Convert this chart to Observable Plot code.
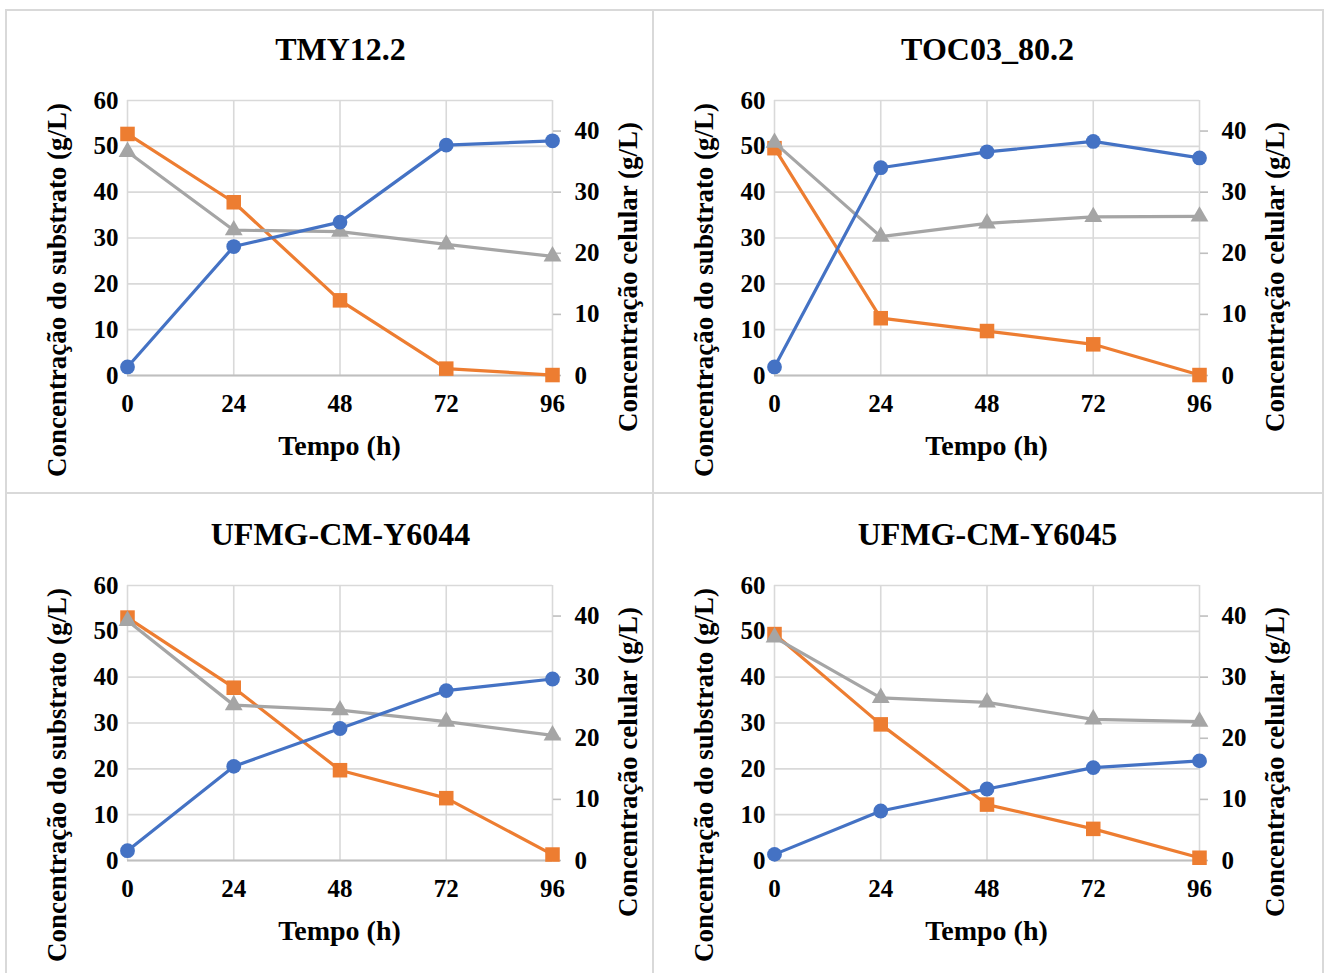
<!DOCTYPE html>
<html>
<head>
<meta charset="utf-8">
<script src="https://cdn.jsdelivr.net/npm/d3@7"></script>
<script src="https://cdn.jsdelivr.net/npm/@observablehq/plot@0.6"></script>
<style>
  html, body { margin: 0; padding: 0; background: #fff; }
  #root { position: relative; width: 1328px; height: 973px; overflow: hidden; background: #fff;
          font-family: "Liberation Serif", "Times New Roman", serif; font-weight: bold; color: #000; }
  .ln { position: absolute; background: #d9d9d9; }
  .lbl { position: absolute; white-space: nowrap; transform: translate(-50%, -50%); line-height: 1; }
  .rot { transform: translate(-50%, -50%) rotate(-90deg); }
  .pnl { position: absolute; }
</style>
</head>
<body>
<div id="root"></div>
<script>
// ---- data ----
const times = [0, 24, 48, 72, 96];
const titles = ["TMY12.2", "TOC03_80.2", "UFMG-CM-Y6044", "UFMG-CM-Y6045"];
const xLabel = "Tempo (h)";
const yLeftLabel = "Concentração do substrato (g/L)";
const yRightLabel = "Concentração celular (g/L)";
const leftTicks = [0, 10, 20, 30, 40, 50, 60];
const rightTicks = [0, 10, 20, 30, 40];
const leftMax = 60;
const rightMax = 45;

// orange squares (left axis, g/L)
const substrate1 = [52.7, 37.8, 16.4, 1.5, 0.1];
const substrate2 = [49.6, 12.5, 9.7, 6.8, 0.1];
const substrate3 = [53.0, 37.7, 19.7, 13.6, 1.3];
const substrate4 = [49.4, 29.7, 12.2, 6.9, 0.6];
// gray triangles (left axis, g/L)
const gray1 = [48.8, 31.7, 31.4, 28.6, 26.0];
const gray2 = [50.8, 30.3, 33.2, 34.6, 34.7];
const gray3 = [52.3, 33.9, 32.8, 30.3, 27.3];
const gray4 = [48.7, 35.5, 34.5, 30.8, 30.3];
// blue circles (right axis, cell concentration g/L)
const cells1 = [1.4, 21.1, 25.1, 37.7, 38.4];
const cells2 = [1.4, 34.0, 36.6, 38.3, 35.6];
const cells3 = [1.6, 15.4, 21.6, 27.8, 29.7];
const cells4 = [1.0, 8.1, 11.7, 15.2, 16.3];

const substrate = [substrate1, substrate2, substrate3, substrate4];
const grays = [gray1, gray2, gray3, gray4];
const cells = [cells1, cells2, cells3, cells4];

const colors = { blue: "#4472C4", orange: "#ED7D31", gray: "#A5A5A5", grid: "#d9d9d9", axis: "#bfbfbf" };
const FONT = "'Liberation Serif', 'Times New Roman', serif";

const root = document.getElementById("root");

// panel borders
function line(x, y, w, h) {
  const d = document.createElement("div");
  d.className = "ln";
  Object.assign(d.style, { left: x + "px", top: y + "px", width: w + "px", height: h + "px" });
  root.appendChild(d);
}
line(5, 9, 1319, 2);
line(5, 9, 2, 980);
line(1322, 9, 2, 980);
line(652, 9, 2, 980);
line(5, 492, 1319, 2);

function label(text, cx, cy, size, rotate) {
  const d = document.createElement("div");
  d.className = "lbl" + (rotate ? " rot" : "");
  d.textContent = text;
  Object.assign(d.style, { left: cx + "px", top: cy + "px", fontSize: size + "px" });
  root.appendChild(d);
}

// plot frame positions (page coords) of each panel
const frames = [
  { x0: 127, y0: 100 },
  { x0: 774, y0: 100 },
  { x0: 127, y0: 585 },
  { x0: 774, y0: 585 }
];
const PW = 425, PH = 275;
const ML = 80, MR = 90, MT = 20, MB = 60;
const k = leftMax / rightMax;
const TICK_FS = 25;

frames.forEach((f, i) => {
  const sub = times.map((t, j) => ({ t, v: substrate[i][j] }));
  const gr = times.map((t, j) => ({ t, v: grays[i][j] }));
  const cel = times.map((t, j) => ({ t, v: cells[i][j] * k }));

  const svg = Plot.plot({
    width: PW + ML + MR,
    height: PH + MT + MB,
    marginLeft: ML, marginRight: MR, marginTop: MT, marginBottom: MB,
    x: { domain: [0, 96] },
    y: { domain: [0, leftMax] },
    style: { fontFamily: FONT, fontWeight: "bold", fontSize: TICK_FS + "px", color: "#000", background: "transparent", overflow: "visible" },
    marks: [
      Plot.gridY(leftTicks, { stroke: colors.grid, strokeOpacity: 1, strokeWidth: 1.6 }),
      Plot.gridX(times, { stroke: colors.grid, strokeOpacity: 1, strokeWidth: 1.6 }),
      Plot.ruleY([0], { stroke: colors.axis, strokeWidth: 1.8 }),
      Plot.axisY(leftTicks, { anchor: "left", tickSize: 0, tickPadding: 9, label: null, fontSize: TICK_FS, fontWeight: "bold" }),
      Plot.axisY(rightTicks.map(t => t * k), { anchor: "right", tickSize: 8, tickPadding: 14, stroke: colors.axis, strokeWidth: 1.6, fill: "#000", tickFormat: d => String(Math.round(d / k)), label: null, fontSize: TICK_FS, fontWeight: "bold" }),
      Plot.axisX(times, { anchor: "bottom", tickSize: 0, tickPadding: 19, label: null, fontSize: TICK_FS, fontWeight: "bold" }),
      Plot.line(sub, { x: "t", y: "v", stroke: colors.orange, strokeWidth: 3.2 }),
      Plot.dot(sub, { x: "t", y: "v", symbol: "square", r: 8.2, fill: colors.orange, stroke: "none" }),
      Plot.line(gr, { x: "t", y: "v", stroke: colors.gray, strokeWidth: 3.2 }),
      Plot.dot(gr, { x: "t", y: "v", symbol: "triangle", r: 6.6, fill: colors.gray, stroke: "none" }),
      Plot.line(cel, { x: "t", y: "v", stroke: colors.blue, strokeWidth: 3.2 }),
      Plot.dot(cel, { x: "t", y: "v", symbol: "circle", r: 7.4, fill: colors.blue, stroke: "none" })
    ]
  });
  const wrap = document.createElement("div");
  wrap.className = "pnl";
  wrap.style.left = (f.x0 - ML) + "px";
  wrap.style.top = (f.y0 - MT) + "px";
  wrap.appendChild(svg);
  root.appendChild(wrap);

  const cx = f.x0 + PW / 2;
  label(titles[i], cx + 1, f.y0 - 51, 32, false);
  label(xLabel, cx, f.y0 + 346, 28, false);
  label(yLeftLabel, f.x0 - 70, f.y0 + 190, 27, true);
  label(yRightLabel, f.x0 + PW + 76, f.y0 + 177, 27, true);
});
</script>
</body>
</html>
